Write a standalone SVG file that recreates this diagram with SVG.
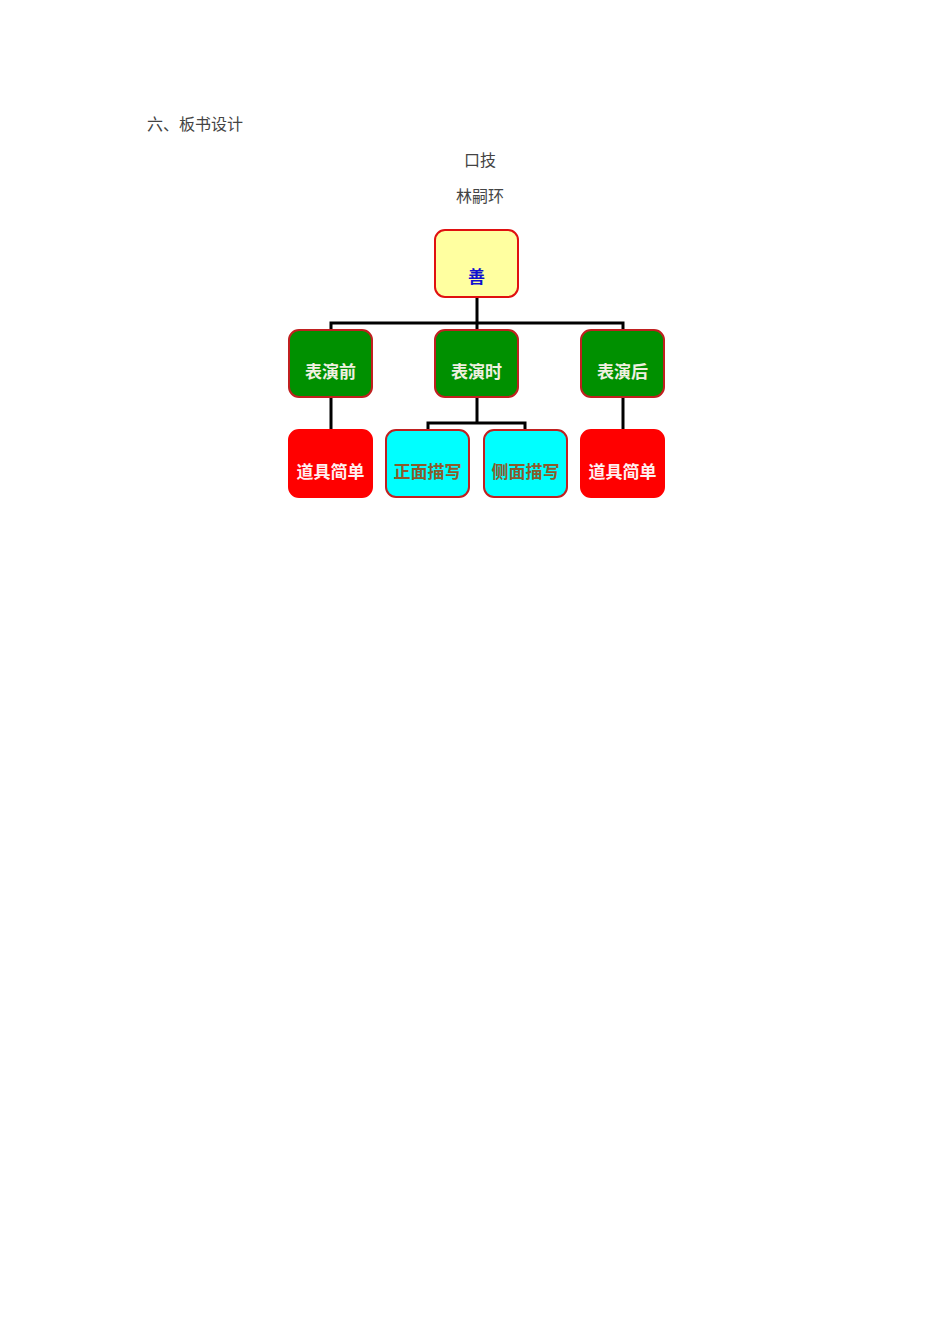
<svg xmlns="http://www.w3.org/2000/svg" width="950" height="1344" viewBox="0 0 950 1344">
<style>
.t{font-family:"Noto Sans CJK SC","Liberation Serif",serif;font-size:16px;fill:#444}
.b{stroke-width:2;}
.lbl{font-family:"Noto Sans CJK SC",sans-serif;font-weight:bold;font-size:17px;text-anchor:middle}
.c{fill:none;stroke:#000;stroke-width:3}
</style>
<rect width="950" height="1344" fill="#fff"/>
<text class="t" x="147" y="130">六、板书设计</text>
<text class="t" x="480" y="166" text-anchor="middle">口技</text>
<text class="t" x="480" y="202" text-anchor="middle">林嗣环</text>
<g id="connectors">
<path class="c" d="M477 297V323M331 330V323H623V330M477 323V330"/>
<path class="c" d="M331 397V430M623 397V430M477 397V423M428 430V423H525V430"/>
</g>
<g id="root"><rect x="435" y="230" width="83" height="67" rx="10" fill="#ffffa0" stroke="#e01010" class="b"/><text class="lbl" x="476.5" y="283" fill="#1010d0" font-size="24">善</text></g>
<g id="n1"><rect x="289" y="330" width="83" height="67" rx="10" fill="#009000" stroke="#c02020" class="b"/><text class="lbl" x="330.5" y="378" fill="#f0f0e0">表演前</text></g>
<g id="n2"><rect x="435" y="330" width="83" height="67" rx="10" fill="#009000" stroke="#c02020" class="b"/><text class="lbl" x="476.5" y="378" fill="#f0f0e0">表演时</text></g>
<g id="n3"><rect x="581" y="330" width="83" height="67" rx="10" fill="#009000" stroke="#c02020" class="b"/><text class="lbl" x="622.5" y="378" fill="#f0f0e0">表演后</text></g>
<g id="n4"><rect x="289" y="430" width="83" height="67" rx="10" fill="#ff0000" stroke="#ff0000" class="b"/><text class="lbl" x="330.5" y="478" fill="#fff0f0">道具简单</text></g>
<g id="n5"><rect x="386" y="430" width="83" height="67" rx="10" fill="#00ffff" stroke="#c02020" class="b"/><text class="lbl" x="427.5" y="478" fill="#8b5a2b">正面描写</text></g>
<g id="n6"><rect x="484" y="430" width="83" height="67" rx="10" fill="#00ffff" stroke="#c02020" class="b"/><text class="lbl" x="525.5" y="478" fill="#8b5a2b">侧面描写</text></g>
<g id="n7"><rect x="581" y="430" width="83" height="67" rx="10" fill="#ff0000" stroke="#ff0000" class="b"/><text class="lbl" x="622.5" y="478" fill="#fff0f0">道具简单</text></g>
</svg>
